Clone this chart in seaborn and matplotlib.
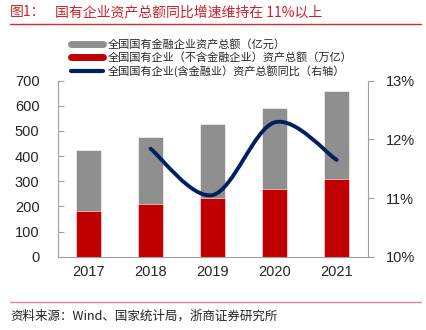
import numpy as np
import pandas as pd
import matplotlib
matplotlib.use("Agg")
import matplotlib.pyplot as plt
import seaborn as sns
from matplotlib.path import Path
from matplotlib.patches import PathPatch
from matplotlib.lines import Line2D

# ---- data ----
years = ["2017", "2018", "2019", "2020", "2021"]
nonfin_assets = [183.5, 210.4, 233.9, 268.5, 308.3]     # 万亿 (red)
fin_assets = [241.0, 264.3, 293.3, 323.5, 352.4]        # gray (stacked on red)
growth_years = ["2018", "2019", "2020", "2021"]
growth_pct = [11.84, 11.05, 12.29, 11.65]
left_ticks = [0, 100, 200, 300, 400, 500, 600, 700]
right_ticks = [10, 11, 12, 13]
legend_labels = ["全国国有金融企业资产总额（亿元）",
                 "全国国有企业（不含金融企业）资产总额（万亿）",
                 "全国国有企业(含金融业）资产总额同比（右轴）"]
title_prefix = "图1："
title_text = "国有企业资产总额同比增速维持在 11%以上"
source_text = "资料来源：Wind、国家统计局，浙商证券研究所"

df = pd.DataFrame({"year": years, "nonfin": nonfin_assets, "fin": fin_assets})
df["total"] = df["nonfin"] + df["fin"]

sns.set_style("white")
plt.rcParams["font.family"] = ["Liberation Sans", "Noto Sans CJK SC", "DejaVu Sans"]

GRAY = "#8f8f8f"
RED = "#c00000"
NAVY = "#002060"
SPINE = "#a0a0a0"

W, H = 426, 330
fig = plt.figure(figsize=(W / 100, H / 100), dpi=100)
ax = fig.add_axes([57.5 / W, 1 - 256.7 / H, (367.7 - 57.5) / W, (256.7 - 80.7) / H])

sns.barplot(data=df, x="year", y="total", color=GRAY, width=0.4, ax=ax,
            saturation=1, edgecolor="white", linewidth=0.4)
sns.barplot(data=df, x="year", y="nonfin", color=RED, width=0.4, ax=ax,
            saturation=1, edgecolor="white", linewidth=0.4)

ax.set_xlim(-0.5, 4.5)
ax.set_ylim(0, 700)
ax.set_yticks(left_ticks)
ax.set_yticklabels([str(t) for t in left_ticks])
ax.set_xlabel("")
ax.set_ylabel("")
ax.set_xticks(range(len(years)))
ax.set_xticklabels(years)
ax.set_xticks([0.5, 1.5, 2.5, 3.5], minor=True)
ax.tick_params(axis="x", which="major", length=0, labelsize=10.5, pad=6)
ax.tick_params(axis="x", which="minor", direction="in", length=4, color=SPINE, width=0.8)
ax.tick_params(axis="y", direction="in", length=4, color=SPINE, width=0.8,
               labelsize=10.5, pad=13)
for s in ["top", "right"]:
    ax.spines[s].set_visible(False)
for s in ["left", "bottom"]:
    ax.spines[s].set_color(SPINE)
    ax.spines[s].set_linewidth(0.8)

# right axis with smooth growth line
ax2 = ax.twinx()
ax2.set_ylim(10, 13)
ax2.set_yticks(right_ticks)
ax2.set_yticklabels([f"{t}%" for t in right_ticks])
ax2.tick_params(axis="y", direction="out", length=4, color=SPINE, width=0.8,
                labelsize=10.5, pad=9)
for s in ["top", "left", "bottom"]:
    ax2.spines[s].set_visible(False)
ax2.spines["right"].set_color(SPINE)
ax2.spines["right"].set_linewidth(0.8)

xs = np.array([years.index(y) for y in growth_years], dtype=float)
ys = np.array(growth_pct, dtype=float)
# Catmull-Rom style smoothing as bezier path
verts = [(xs[0], ys[0])]
codes = [Path.MOVETO]
n = len(xs)
for i in range(n - 1):
    p0 = (xs[max(i - 1, 0)], ys[max(i - 1, 0)])
    p1 = (xs[i], ys[i])
    p2 = (xs[i + 1], ys[i + 1])
    p3 = (xs[min(i + 2, n - 1)], ys[min(i + 2, n - 1)])
    c1 = (p1[0] + (p2[0] - p0[0]) / 6, p1[1] + (p2[1] - p0[1]) / 6)
    c2 = (p2[0] - (p3[0] - p1[0]) / 6, p2[1] - (p3[1] - p1[1]) / 6)
    verts += [c1, c2, p2]
    codes += [Path.CURVE4] * 3
ax2.add_patch(PathPatch(Path(verts, codes), facecolor="none", edgecolor=NAVY,
                        lw=2.8, capstyle="round"))

# legend
handles = [Line2D([], [], color=GRAY, lw=5),
           Line2D([], [], color=RED, lw=5),
           Line2D([], [], color=NAVY, lw=3)]
fig.legend(handles, legend_labels, loc="upper left",
           bbox_to_anchor=(71 / W, 1 - 39.5 / H), frameon=False,
           prop={"family": ["Noto Sans CJK SC", "DejaVu Sans"], "size": 8},
           handlelength=2.9, handletextpad=0.4, labelspacing=0.2,
           borderaxespad=0, borderpad=0)

# title and source
cjk = ["Noto Sans CJK SC", "DejaVu Sans"]
TRED = "#d0202a"
fig.text(10 / W, 1 - 12 / H, title_prefix, color=TRED, fontsize=10,
         family=cjk, va="center", ha="left")
fig.text(55 / W, 1 - 12 / H, title_text, color=TRED, fontsize=10,
         family=cjk, va="center", ha="left")
fig.add_artist(Line2D([10 / W, 421 / W], [1 - 24.3 / H, 1 - 24.3 / H],
                      color="#d42a2a", lw=1.0, transform=fig.transFigure))
fig.add_artist(Line2D([10 / W, 421 / W], [1 - 302 / H, 1 - 302 / H],
                      color="#e58080", lw=1.0, transform=fig.transFigure))
fig.text(10 / W, 1 - 316 / H, source_text, color="#222222", fontsize=9,
         family=cjk, va="center", ha="left")

fig.savefig("out.png", dpi=100)
